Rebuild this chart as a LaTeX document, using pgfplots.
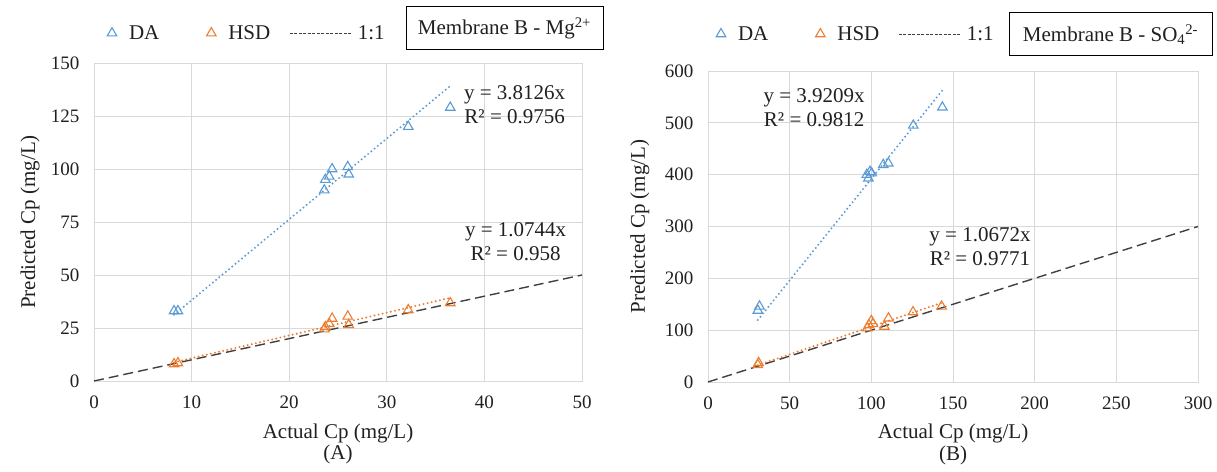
\documentclass[border=0pt]{standalone}
\usepackage{fontspec}
\setmainfont{Liberation Serif}
\usepackage{pgfplots}
\pgfplotsset{compat=1.18}
\definecolor{da}{HTML}{5B9BD5}
\definecolor{hsd}{HTML}{ED7D31}
\definecolor{gridc}{HTML}{D9D9D9}
\definecolor{txt}{HTML}{202020}
\definecolor{oneline}{HTML}{404040}
\newcommand{\ff}{\fontsize{19bp}{22bp}\selectfont}
\newcommand{\fl}{\fontsize{21bp}{24bp}\selectfont}
\pgfplotsset{
  myax/.style={
    scale only axis, anchor=south west, clip=false,
    enlargelimits=false,
    grid=major, major grid style={draw=gridc, line width=0.8bp},
    axis line style={draw=gridc, line width=0.8bp},
    major tick length=0pt,
    tick label style={font=\ff, text=txt},
    /pgf/number format/assume math mode=true,
    xticklabel style={yshift=-11bp},
    yticklabel style={xshift=-11bp},
    xlabel style={font=\fl, text=txt, anchor=center},
    ylabel style={font=\fl, text=txt, anchor=center},
    legend style={draw=none, fill=none, legend columns=3, anchor=west,
      inner sep=0pt, outer sep=0pt, nodes={inner sep=0pt},
      font=\fl, text=txt,
      /tikz/column 2/.style={column sep=46bp},
      /tikz/column 4/.style={column sep=19bp}},
    legend cell align=left,
  },
  damark/.style={only marks, mark=triangle, mark size=5.5bp, mark options={draw=da, line width=1.1bp, fill=none}},
  hsdmark/.style={only marks, mark=triangle, mark size=5.5bp, mark options={draw=hsd, line width=1.1bp, fill=none}},
  trend/.style={line width=2.2bp, dash pattern=on 0bp off 4.2bp, line cap=round, forget plot},
  oneone/.style={draw=oneline, line width=1.4bp, dash pattern=on 10bp off 5bp,
    legend image code/.code={\path[draw=none, fill=none] (0bp,-5bp) rectangle (68bp,5bp);
      \draw[draw=oneline, line width=0.9bp, dash pattern=on 3bp off 1.5bp] (0bp,0bp) -- (62bp,0bp);}},
  mklegimg/.style={legend image code/.code={\path[draw=none, fill=none] (-6bp,-5bp) rectangle (17bp,5bp);
      \draw[##1] plot coordinates {(0bp,0bp)};}},
}
\begin{document}
\begin{tikzpicture}[font=\fl]
\useasboundingbox (0,0) rectangle (1217bp,472bp);
% ---------------- Panel A
\begin{axis}[myax, at={(94bp,91bp)}, width=488bp, height=318bp,
  xmin=0, xmax=50, ymin=0, ymax=150,
  xtick={0,10,20,30,40,50}, ytick={0,25,50,75,100,125,150},
  xlabel={Actual Cp (mg/L)}, ylabel={Predicted Cp (mg/L)},
  xlabel style={at={(axis description cs:0.5,-0.164)}},
  ylabel style={at={(axis description cs:-0.131,0.5)}},
  legend style={at={(axis description cs:0.0246,1.094)}}]
\addplot[damark, mklegimg] coordinates {
 (8.2,33) (8.6,33) (23.6,90) (23.7,95) (24.1,96.5) (24.4,100)
 (26.0,101) (26.1,97.5) (32.2,120) (36.5,129)};
\addlegendentry{DA}
\addplot[hsdmark, mklegimg] coordinates {
 (8.2,8) (8.6,8.5) (23.6,24.5) (23.7,25.5) (24.1,27) (24.4,29.5)
 (26.0,30.5) (26.1,26.5) (32.2,33.5) (36.5,36.8)};
\addlegendentry{HSD}
\addplot[oneone] coordinates {(0,0) (50,50)};
\addlegendentry{1:1}
\addplot[da, trend] coordinates {(8.2,31.26) (36.5,139.16)};
\addplot[hsd, trend] coordinates {(8.2,8.81) (36.5,39.22)};
\node[align=center, text=txt, inner sep=0pt] at (axis cs:43.1,130.5) {y = 3.8126x\\[0bp]R² = 0.9756};
\node[align=center, text=txt, inner sep=0pt] at (axis cs:43.2,65.6) {y = 1.0744x\\[0bp]R² = 0.958};
\node[text=txt] at (axis description cs:0.5,-0.232) {(A)};
\end{axis}
% ---------------- Panel B
\begin{axis}[myax, at={(708bp,90bp)}, width=490bp, height=311bp,
  xmin=0, xmax=300, ymin=0, ymax=600,
  xtick={0,50,100,150,200,250,300}, ytick={0,100,200,300,400,500,600},
  xlabel={Actual Cp (mg/L)}, ylabel={Predicted Cp (mg/L)},
  xlabel style={at={(axis description cs:0.5,-0.164)}},
  ylabel style={at={(axis description cs:-0.139,0.5)}},
  legend style={at={(axis description cs:0.0143,1.119)}}]
\addplot[damark, mklegimg] coordinates {
 (30.5,138) (31.5,146) (97.2,400) (98.2,393) (99.2,406) (100.2,403)
 (107.3,419) (110.4,422) (125.7,495) (143.5,530)};
\addlegendentry{DA}
\addplot[hsdmark, mklegimg] coordinates {
 (30.5,33) (31,37) (97.5,104) (98.5,110) (100,118) (101,112)
 (108,107) (110.5,123) (125.5,135) (143,146)};
\addlegendentry{HSD}
\addplot[oneone] coordinates {(0,0) (300,300)};
\addlegendentry{1:1}
\addplot[da, trend] coordinates {(30.5,119.59) (143.5,562.65)};
\addplot[hsd, trend] coordinates {(30.5,32.55) (143.5,153.14)};
\node[align=center, text=txt, inner sep=0pt] at (axis cs:65,530) {y = 3.9209x\\[0bp]R² = 0.9812};
\node[align=center, text=txt, inner sep=0pt] at (axis cs:166.5,261.6) {y = 1.0672x\\[0bp]R² = 0.9771};
\node[text=txt] at (axis description cs:0.5,-0.235) {(B)};
\end{axis}
% ---------------- title boxes
\node[draw=black, line width=1bp, minimum width=197bp, minimum height=43bp, text=txt] at (504.5bp,443.5bp) {Membrane B - Mg\textsuperscript{2+}};
\node[draw=black, line width=1bp, minimum width=203bp, minimum height=43bp, text=txt] at (1110.5bp,437.5bp) {Membrane B - SO\textsubscript{4}\textsuperscript{2-}};
\end{tikzpicture}
\end{document}
